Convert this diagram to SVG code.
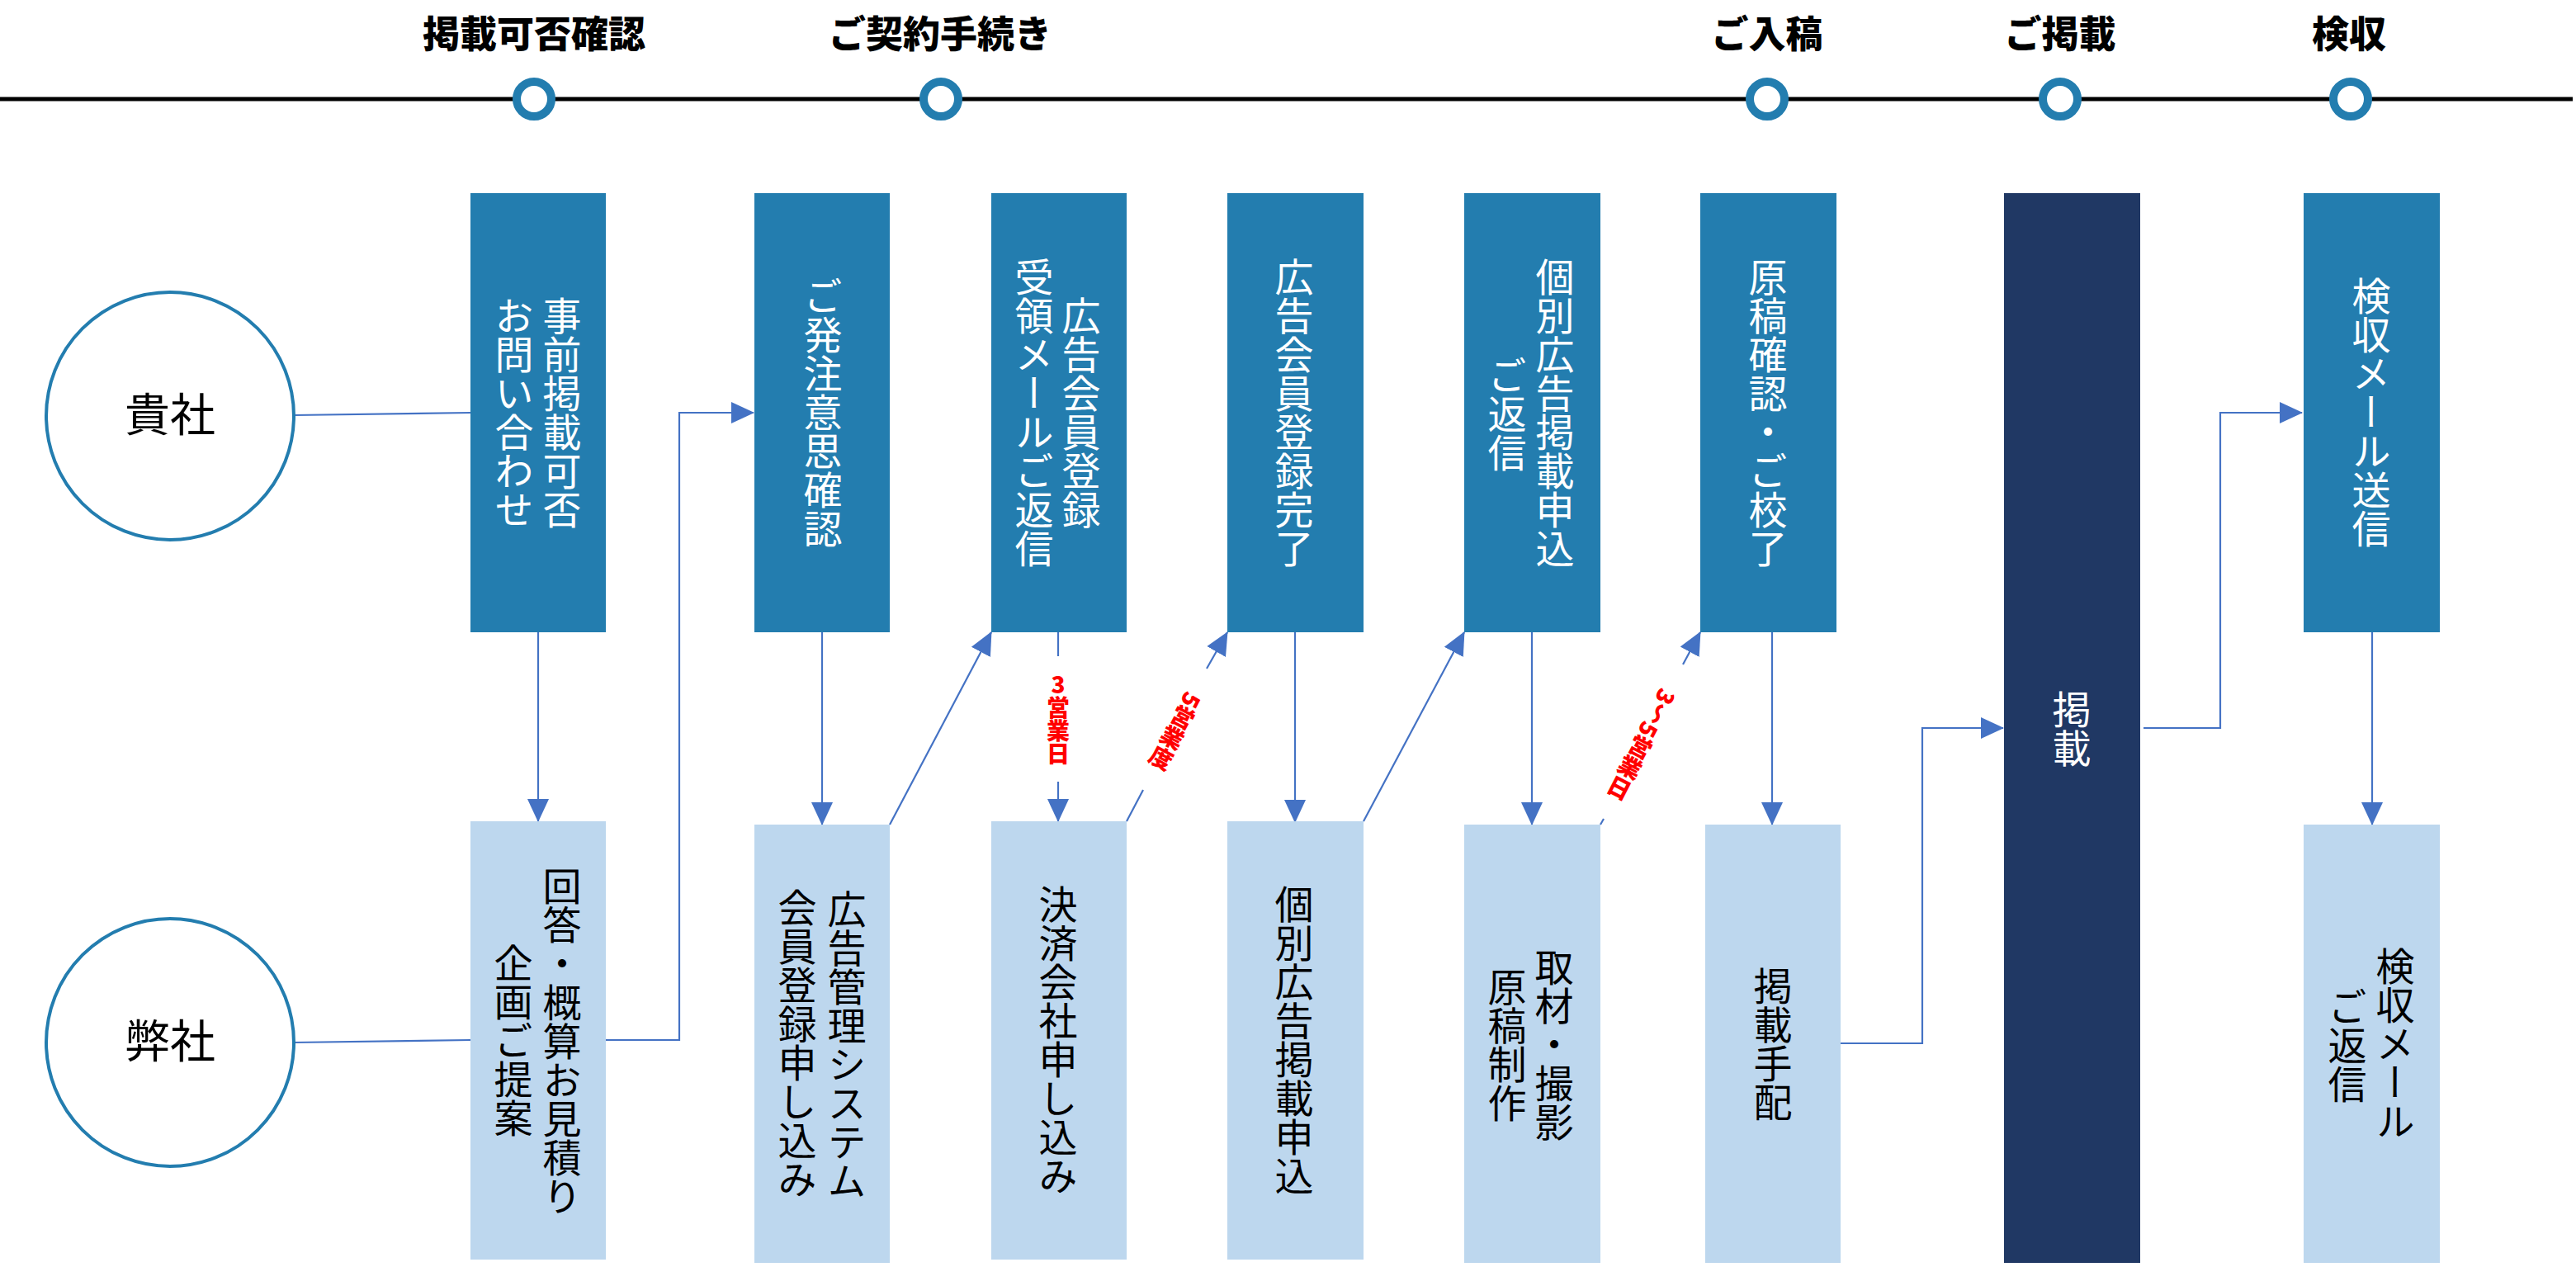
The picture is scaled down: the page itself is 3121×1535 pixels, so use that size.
<svg xmlns="http://www.w3.org/2000/svg" width="3121" height="1535" viewBox="0 0 3121 1535">
<defs>
<style>
.hd{font-family:"Noto Sans CJK JP","Noto Sans",sans-serif;font-weight:900;font-size:45px;fill:#000;text-anchor:middle}
.co{fill:#fff;stroke:#237DAF;stroke-width:4}
.cl{font-family:"Noto Sans CJK JP","Noto Sans",sans-serif;font-size:55px;fill:#000;text-anchor:middle;dominant-baseline:central}
.top{fill:#237DAF}
.bot{fill:#BDD7EE}
.dark{fill:#203864}
.vt{font-family:"Noto Sans CJK JP","Noto Sans",sans-serif;font-size:47px;writing-mode:vertical-rl;text-anchor:middle}
.w{fill:#fff}
.b{fill:#000}
.ln{fill:none;stroke:#4472C4;stroke-width:2.2}
.lbl{font-family:"Noto Sans CJK JP","Noto Sans",sans-serif;font-weight:900;font-size:28px;fill:#FF0000;writing-mode:vertical-rl;text-anchor:middle}
.ring{fill:#fff;stroke:#237DAF;stroke-width:10}
</style>
<marker id="ah" markerUnits="userSpaceOnUse" markerWidth="28" markerHeight="28" viewBox="0 0 28 28" refX="27" refY="14" orient="auto">
<path d="M0,1 L28,14 L0,27 z" fill="#4472C4"/>
</marker>
</defs>

<g id="timeline">
<line x1="0" y1="120" x2="3117" y2="120" stroke="#000" stroke-width="5"/>
<circle class="ring" cx="647" cy="120" r="21"/>
<circle class="ring" cx="1140" cy="120" r="21"/>
<circle class="ring" cx="2141" cy="120" r="21"/>
<circle class="ring" cx="2496" cy="120" r="21"/>
<circle class="ring" cx="2848" cy="120" r="21"/>
<text class="hd" x="647" y="58">掲載可否確認</text>
<text class="hd" x="1139" y="58">ご契約手続き</text>
<text class="hd" x="2141" y="58">ご入稿</text>
<text class="hd" x="2496" y="58">ご掲載</text>
<text class="hd" x="2846" y="58">検収</text>
</g>

<g id="connectors">
<line class="ln" x1="356" y1="503" x2="570" y2="500"/>
<line class="ln" x1="652" y1="766" x2="652" y2="995" marker-end="url(#ah)"/>
<line class="ln" x1="356" y1="1263" x2="570" y2="1260"/>
<polyline class="ln" points="734,1260 823,1260 823,500 913,500" marker-end="url(#ah)"/>
<line class="ln" x1="996" y1="766" x2="996" y2="999" marker-end="url(#ah)"/>
<line class="ln" x1="1078" y1="999" x2="1201" y2="766" marker-end="url(#ah)"/>
<line class="ln" x1="1282" y1="766" x2="1282" y2="795"/>
<line class="ln" x1="1282" y1="947" x2="1282" y2="995" marker-end="url(#ah)"/>
<line class="ln" x1="1365" y1="995" x2="1385" y2="957"/>
<line class="ln" x1="1462" y1="810" x2="1487" y2="766" marker-end="url(#ah)"/>
<line class="ln" x1="1569" y1="766" x2="1569" y2="996" marker-end="url(#ah)"/>
<line class="ln" x1="1652" y1="995" x2="1774" y2="766" marker-end="url(#ah)"/>
<line class="ln" x1="1856" y1="766" x2="1856" y2="999" marker-end="url(#ah)"/>
<line class="ln" x1="1939" y1="999" x2="1943" y2="992"/>
<line class="ln" x1="2039" y1="805" x2="2060" y2="766" marker-end="url(#ah)"/>
<line class="ln" x1="2147" y1="766" x2="2147" y2="999" marker-end="url(#ah)"/>
<polyline class="ln" points="2230,1264 2329,1264 2329,882 2427,882" marker-end="url(#ah)"/>
<polyline class="ln" points="2597,882 2690,882 2690,500 2789,500" marker-end="url(#ah)"/>
<line class="ln" x1="2874" y1="766" x2="2874" y2="999" marker-end="url(#ah)"/>
<text class="lbl" x="1282" y="871" style="text-orientation:upright">3営業日</text>
<text class="lbl" transform="translate(1424,886) rotate(28)" x="0" y="0">5営業度</text>
<text class="lbl" transform="translate(1989,902) rotate(27.4)" x="0" y="0">3～5営業日</text>
</g>

<g id="kisha">
<circle class="co" cx="206" cy="504" r="150"/>
<text class="cl" x="206" y="498">貴社</text>
</g>
<g id="heisha">
<circle class="co" cx="206" cy="1263" r="150"/>
<text class="cl" x="206" y="1257">弊社</text>
</g>

<g id="n-jizen">
<rect class="top" x="570" y="234" width="164" height="532"/>
<text class="vt w" x="681" y="500">事前掲載可否</text>
<text class="vt w" x="623" y="500">お問い合わせ</text>
</g>
<g id="n-hacchu">
<rect class="top" x="914" y="234" width="164" height="532"/>
<text class="vt w" x="997" y="499">ご発注意思確認</text>
</g>
<g id="n-juryo">
<rect class="top" x="1201" y="234" width="164" height="532"/>
<text class="vt w" x="1310" y="500">広告会員登録</text>
<text class="vt w" x="1253" y="500">受領メールご返信</text>
</g>
<g id="n-kanryo">
<rect class="top" x="1487" y="234" width="165" height="532"/>
<text class="vt w" x="1568" y="500">広告会員登録完了</text>
</g>
<g id="n-kobetsu-henshin">
<rect class="top" x="1774" y="234" width="165" height="532"/>
<text class="vt w" x="1884" y="500">個別広告掲載申込</text>
<text class="vt w" x="1826" y="501">ご返信</text>
</g>
<g id="n-kouryo">
<rect class="top" x="2060" y="234" width="165" height="532"/>
<text class="vt w" x="2142" y="500">原稿確認・ご校了</text>
</g>
<g id="n-keisai">
<rect class="dark" x="2428" y="234" width="165" height="1296"/>
<text class="vt w" x="2510" y="883">掲載</text>
</g>
<g id="n-kenshu-soushin">
<rect class="top" x="2791" y="234" width="165" height="532"/>
<text class="vt w" x="2873" y="499">検収メール送信</text>
</g>

<g id="n-kaito">
<rect class="bot" x="570" y="995" width="164" height="531"/>
<text class="vt b" x="681" y="1261">回答・概算お見積り</text>
<text class="vt b" x="622" y="1260">企画ご提案</text>
</g>
<g id="n-kanri">
<rect class="bot" x="914" y="999" width="164" height="531"/>
<text class="vt b" x="1026" y="1266">広告管理システム</text>
<text class="vt b" x="966" y="1264">会員登録申し込み</text>
</g>
<g id="n-kessai">
<rect class="bot" x="1201" y="995" width="164" height="531"/>
<text class="vt b" x="1282" y="1260">決済会社申し込み</text>
</g>
<g id="n-kobetsu">
<rect class="bot" x="1487" y="995" width="165" height="531"/>
<text class="vt b" x="1568" y="1260">個別広告掲載申込</text>
</g>
<g id="n-shuzai">
<rect class="bot" x="1774" y="999" width="165" height="531"/>
<text class="vt b" x="1883" y="1265">取材・撮影</text>
<text class="vt b" x="1826" y="1266">原稿制作</text>
</g>
<g id="n-tehai">
<rect class="bot" x="2066" y="999" width="164" height="531"/>
<text class="vt b" x="2148" y="1265">掲載手配</text>
</g>
<g id="n-kenshu-henshin">
<rect class="bot" x="2791" y="999" width="165" height="531"/>
<text class="vt b" x="2902" y="1264">検収メール</text>
<text class="vt b" x="2844" y="1266">ご返信</text>
</g>
</svg>
